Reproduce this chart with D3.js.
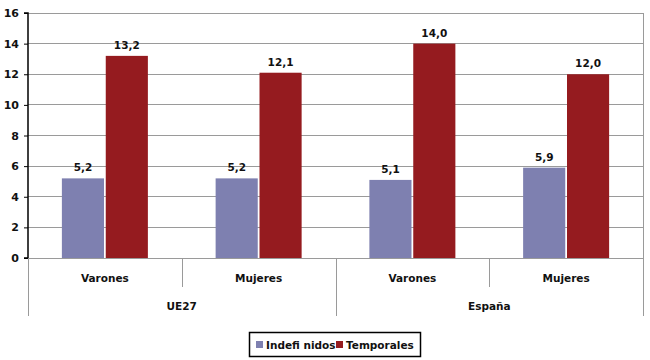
<!DOCTYPE html>
<html><head><meta charset="utf-8">
<script src="https://cdn.jsdelivr.net/npm/d3@7"></script>
<style>body{margin:0;background:#fff}svg{display:block}text{font-family:"DejaVu Sans",sans-serif;font-weight:bold;fill:#111}</style>
</head><body><svg id="c" width="650" height="360"></svg>
<script>
const groups = ["UE27", "España"];
const subgroups = ["Varones", "Mujeres"];
const seriesNames = ["Indefi nidos", "Temporales"];
const indefinidos = [5.2, 5.2, 5.1, 5.9];
const temporales = [13.2, 12.1, 14.0, 12.0];
const yTicks = [0, 2, 4, 6, 8, 10, 12, 14, 16];
const colors = ["#7E80B0", "#951B1F"];

const svg = d3.select("#c");
const L = 28, R = 643, T = 13, B = 258;
const cats = [];
groups.forEach(g => subgroups.forEach(s => cats.push(g + "|" + s)));
const x = d3.scaleBand().domain(cats).range([L, R]).padding(0);
const y = d3.scaleLinear().domain([0, 16]).range([B, T]);
const xs = d3.scaleBand().domain(seriesNames).range([0, 86]).paddingInner(0.04);

// grid
svg.append("g").selectAll("line").data(yTicks.slice(1)).join("line")
  .attr("x1", L).attr("x2", R).attr("y1", d => y(d)).attr("y2", d => y(d))
  .attr("stroke", "#9a9a9a").attr("stroke-width", 1).attr("shape-rendering","crispEdges");
// right border
svg.append("line").attr("x1", R).attr("x2", R).attr("y1", T).attr("y2", B)
  .attr("stroke", "#9a9a9a").attr("shape-rendering","crispEdges");

// bars
const data = cats.map((c, i) => ({c, vals: [indefinidos[i], temporales[i]]}));
const gb = svg.append("g").selectAll("g").data(data).join("g")
  .attr("transform", d => `translate(${x(d.c) + x.bandwidth()/2 - 43},0)`);
gb.selectAll("rect").data(d => d.vals.map((v, k) => ({v, k}))).join("rect")
  .attr("x", d => xs(seriesNames[d.k])).attr("width", xs.bandwidth())
  .attr("y", d => y(d.v)).attr("height", d => B - y(d.v))
  .attr("fill", d => colors[d.k]);
gb.selectAll("text").data(d => d.vals.map((v, k) => ({v, k}))).join("text")
  .attr("x", d => xs(seriesNames[d.k]) + xs.bandwidth()/2).attr("y", d => y(d.v) - 7)
  .attr("text-anchor", "middle").attr("font-size", 10.5)
  .text(d => d.v.toFixed(1).replace(".", ","));

// y axis
const ya = svg.append("g").attr("transform", `translate(${L},0)`)
  .call(d3.axisLeft(y).tickValues(yTicks).tickSize(4).tickPadding(5).tickFormat(d3.format("d")));
ya.select(".domain").attr("stroke", "#000").attr("stroke-width", 1.5).attr("d", `M-4,${T}H0V${B}H-4`);
ya.selectAll(".tick line").attr("stroke", "#000");
ya.selectAll(".tick text").attr("font-size", 11).attr("font-family", "DejaVu Sans").attr("font-weight", "bold").attr("fill", "#111");

// x axis line
svg.append("line").attr("x1", L).attr("x2", R).attr("y1", B).attr("y2", B)
  .attr("stroke", "#9a9a9a").attr("shape-rendering","crispEdges");
// category dividers
const bounds = [L].concat(cats.map(c => x(c) + x.bandwidth()));
svg.append("g").selectAll("line").data(bounds).join("line")
  .attr("x1", d => Math.round(d) + 0.5).attr("x2", d => Math.round(d) + 0.5)
  .attr("y1", B).attr("y2", (d, i) => i % 2 === 0 ? 316 : 287)
  .attr("stroke", "#9a9a9a");
svg.append("g").selectAll("text").data(cats).join("text")
  .attr("x", d => x(d) + x.bandwidth()/2).attr("y", 282).attr("text-anchor", "middle")
  .attr("font-size", 10.5).text(d => d.split("|")[1]);
svg.append("g").selectAll("text").data(groups).join("text")
  .attr("x", g => x(g + "|" + subgroups[0]) + x.bandwidth()).attr("y", 310).attr("text-anchor", "middle")
  .attr("font-size", 10.5).text(g => g);

// legend
const lg = svg.append("g");
lg.append("rect").attr("x", 249.5).attr("y", 332.5).attr("width", 171).attr("height", 24)
  .attr("fill", "#fff").attr("stroke", "#000").attr("stroke-width", 1.5);
const lx = [256, 336];
seriesNames.forEach((s, k) => {
  lg.append("rect").attr("x", lx[k]).attr("y", 341).attr("width", 7).attr("height", 7).attr("fill", colors[k]);
  lg.append("text").attr("x", lx[k] + 10).attr("y", 349).attr("font-size", 10.5).text(s);
});
</script></body></html>
